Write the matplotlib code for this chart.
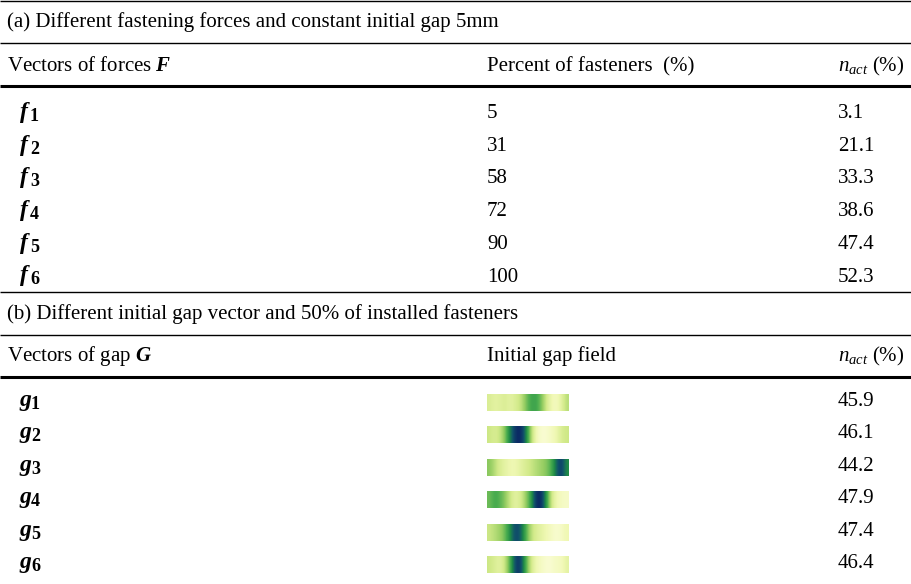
import numpy as np
import matplotlib
matplotlib.use('Agg')
import matplotlib.pyplot as plt
from matplotlib.colors import LinearSegmentedColormap

plt.rcParams['font.family'] = ['Liberation Serif', 'DejaVu Serif']
plt.rcParams['mathtext.fontset'] = 'custom'
plt.rcParams['mathtext.rm'] = 'Liberation Serif'
plt.rcParams['mathtext.it'] = 'Liberation Serif:italic'
# bold vectors are bold italic
plt.rcParams['mathtext.bf'] = 'Liberation Serif:bold:italic'

# (a) fastening forces
force_labels = ['f', 'f', 'f', 'f', 'f', 'f']
percent_fasteners = [5, 31, 58, 72, 90, 100]
n_act_forces = [3.1, 21.1, 33.3, 38.6, 47.4, 52.3]

# (b) initial gap vectors
gap_labels = ['g', 'g', 'g', 'g', 'g', 'g']
n_act_gaps = [45.9, 46.1, 44.2, 47.9, 47.4, 46.4]

# normalised gap profile along the part, one list per gap vector
gap_fields = [
    [0.25, 0.20, 0.22, 0.25, 0.20, 0.25, 0.30, 0.45, 0.60, 0.62, 0.50, 0.30, 0.15, 0.10, 0.20, 0.35],
    [0.30, 0.25, 0.30, 0.45, 0.75, 0.95, 1.00, 0.80, 0.40, 0.15, 0.05, 0.05, 0.10, 0.15, 0.25, 0.30],
    [0.45, 0.35, 0.25, 0.20, 0.15, 0.15, 0.20, 0.25, 0.30, 0.35, 0.40, 0.45, 0.55, 0.80, 0.95, 0.70],
    [0.50, 0.60, 0.55, 0.45, 0.30, 0.20, 0.25, 0.40, 0.60, 0.95, 1.00, 0.70, 0.30, 0.15, 0.10, 0.08],
    [0.30, 0.35, 0.40, 0.50, 0.70, 0.90, 0.85, 0.60, 0.35, 0.25, 0.20, 0.15, 0.10, 0.05, 0.08, 0.15],
    [0.30, 0.25, 0.20, 0.30, 0.55, 0.90, 0.95, 0.60, 0.30, 0.15, 0.10, 0.05, 0.05, 0.10, 0.10, 0.20],
]

gap_cmap = LinearSegmentedColormap.from_list(
    'gap', ['#fdfee0', '#f0f8b4', '#d2ea8a', '#95cd62', '#4aad4f',
            '#1f8a47', '#11536a', '#0a2263'])

fig = plt.figure(figsize=(9.11, 5.84), dpi=100)
ax = fig.add_axes([0, 0, 1, 1])
ax.set_xlim(0, 911)
ax.set_ylim(584, 0)
ax.axis('off')

fs = 15
thin, thick = 1.0, 2.2
col1, col2, col3 = 7, 487, 838


def rule(y, lw):
    ax.plot([0, 911], [y, y], color='black', lw=lw, solid_capstyle='butt')


def vector_label(lab, idx, yb, sub_x):
    ax.text(19, yb, r'$\mathbf{%s}$' % lab, fontsize=fs + 2)
    ax.text(sub_x, yb + 3, str(idx), fontsize=fs - 2, fontweight='bold')


# table (a)
rule(1, thin)
ax.text(col1, 27, '(a) Different fastening forces and constant initial gap 5mm', fontsize=fs)
rule(43, thin)
ax.text(col1, 71, r'Vectors of forces $\mathbf{F}$', fontsize=fs)
ax.text(col2, 71, 'Percent of fasteners  (%)', fontsize=fs)
ax.text(col3, 71, r'$n_{act}$ (%)', fontsize=fs)
rule(86, thick)

for i, (lab, p, n) in enumerate(zip(force_labels, percent_fasteners, n_act_forces)):
    yb = 118 + 32.7 * i
    vector_label(lab, i + 1, yb, 30)
    ax.text(col2, yb, str(p), fontsize=fs)
    ax.text(col3, yb, f'{n:.1f}', fontsize=fs)

# table (b)
rule(292, thin)
ax.text(col1, 319, '(b) Different initial gap vector and 50% of installed fasteners', fontsize=fs)
rule(335, thin)
ax.text(col1, 361, r'Vectors of gap $\mathbf{G}$', fontsize=fs)
ax.text(col2, 361, 'Initial gap field', fontsize=fs)
ax.text(col3, 361, r'$n_{act}$ (%)', fontsize=fs)
rule(377, thick)

for i, (lab, field, n) in enumerate(zip(gap_labels, gap_fields, n_act_gaps)):
    yb = 406 + 32.4 * i
    vector_label(lab, i + 1, yb, 31)
    yc = yb - 3.5
    ax.imshow(np.array(field)[None, :], cmap=gap_cmap, vmin=0, vmax=1,
              extent=(487, 569, yc + 8.5, yc - 8.5), aspect='auto',
              interpolation='bicubic')
    ax.text(col3, yb, f'{n:.1f}', fontsize=fs)

ax.set_xlim(0, 911)
ax.set_ylim(584, 0)
fig.savefig('out.png', dpi=100)
